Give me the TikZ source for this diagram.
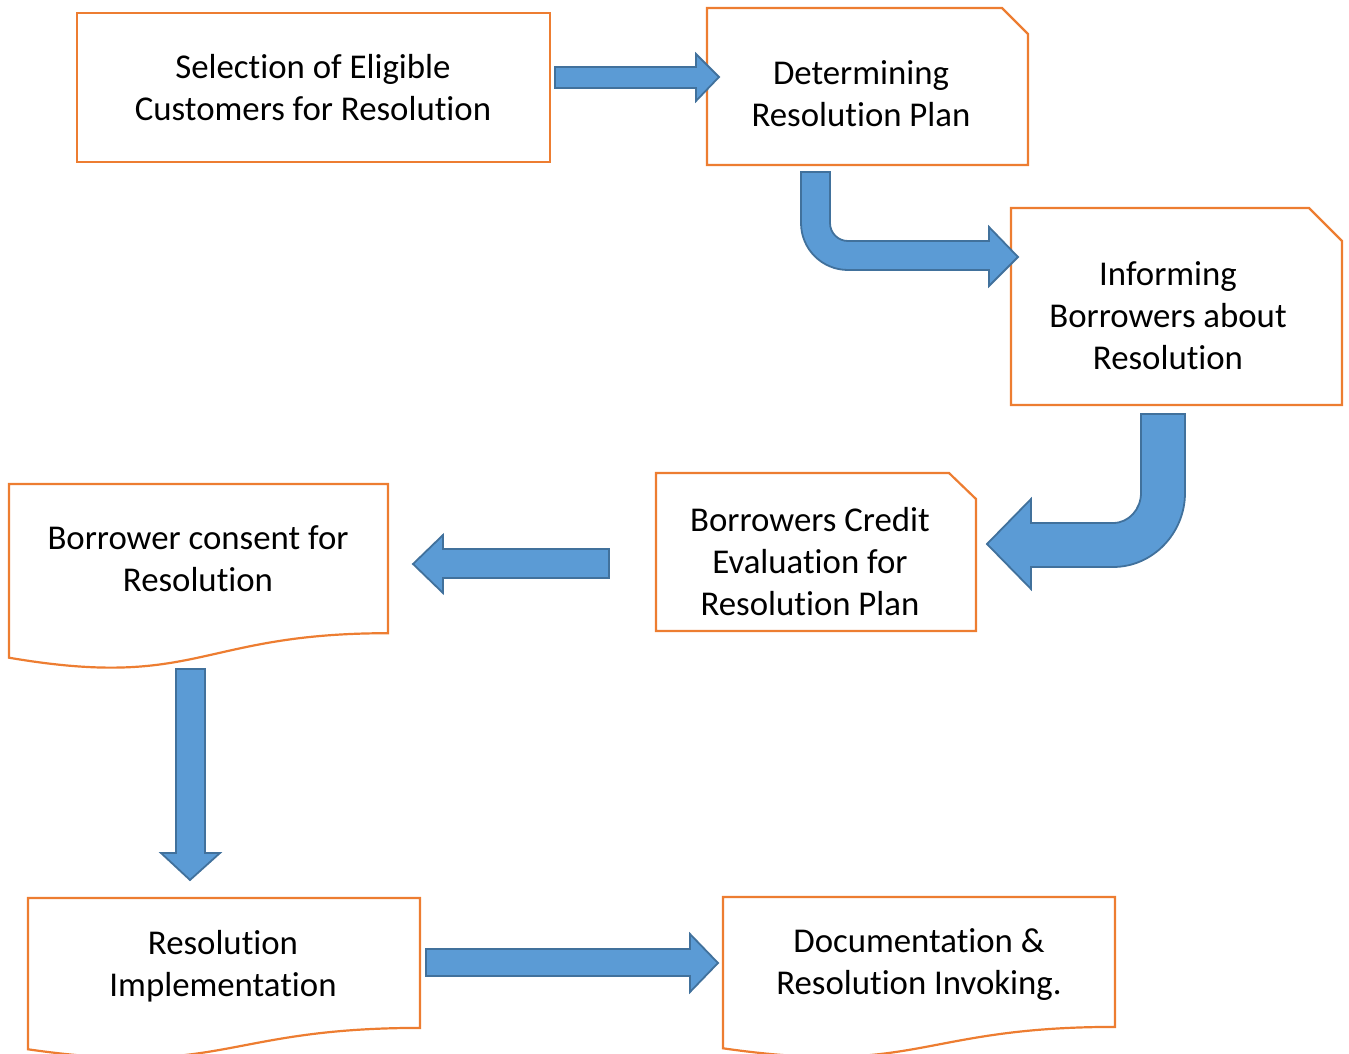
\documentclass[tikz,border=0pt]{standalone}
\usepackage{fontspec}
\setmainfont[Ligatures=NoCommon]{Carlito}
\definecolor{boxorange}{HTML}{ED7D31}
\definecolor{arrowfill}{HTML}{5B9BD5}
\definecolor{arrowline}{HTML}{41719C}
\begin{document}
\begin{tikzpicture}[x=1pt,y=-1pt,
  box/.style={draw=boxorange,line width=2.2pt,fill=white},
  blockarrow/.style={draw=arrowline,line width=1.8pt,fill=arrowfill,line join=miter},
  label/.style={align=center,font=\fontsize{34.8}{42}\selectfont,text=black,inner sep=0pt}]
\path[use as bounding box] (0,0) rectangle (1349,1054);

% Boxes
\draw[box] (77,13) rectangle (550,162);
\draw[box] (707,8) -- (1002,8) -- (1028,34) -- (1028,165) -- (707,165) -- cycle;
\draw[box] (1011,208) -- (1309,208) -- (1342,241) -- (1342,405) -- (1011,405) -- cycle;
\draw[box] (656,473) -- (949,473) -- (976,499) -- (976,631) -- (656,631) -- cycle;
\draw[box] (9,484) -- (388,484) -- (388,633.2) .. controls (198.5,633.2) and (198.5,690) .. (9,657.7) -- cycle;
\draw[box] (28,898) -- (420,898) -- (420,1027.9) .. controls (224,1027.9) and (224,1077.4) .. (28,1049.3) -- cycle;
\draw[box] (723,897) -- (1115,897) -- (1115,1026.9) .. controls (919,1026.9) and (919,1076.4) .. (723,1048.3) -- cycle;

% Texts
\node[label] (t1) at (313,88) {Selection of Eligible\\Customers for Resolution};
\node[label] (t2) at (861,94) {Determining\\Resolution Plan};
\node[label] (t3) at (1168,316) {Informing\\Borrowers about\\Resolution};
\node[label] (t4) at (810,562) {Borrowers Credit\\Evaluation for\\Resolution Plan};
\node[label] (t5) at (198,559) {Borrower consent for\\Resolution};
\node[label] (t6) at (223,966) {Resolution\\Implementation};
\node[label] (t7) at (919,965) {Documentation \&\\Resolution Invoking.};

% Block arrows
\draw[blockarrow] (555,67) -- (696,67) -- (696,54) -- (719,77) -- (696,101) -- (696,88) -- (555,88) -- cycle;
\draw[blockarrow] (801,172) -- (830,172) -- (830,223) .. controls (830,233) and (838,241) .. (848,241)
  -- (989,241) -- (989,227) -- (1018,257) -- (989,286) -- (989,270) -- (848,270)
  .. controls (822,270) and (801,249) .. (801,223) -- cycle;
\draw[blockarrow] (1141,414) -- (1185,414) -- (1185,493) .. controls (1185,533) and (1153,567) .. (1113,567)
  -- (1031,567) -- (1031,589) -- (987,544) -- (1031,499) -- (1031,523) -- (1113,523)
  .. controls (1129,523) and (1141,509) .. (1141,493) -- cycle;
\draw[blockarrow] (609,549) -- (443,549) -- (443,535) -- (413,564) -- (443,593) -- (443,578) -- (609,578) -- cycle;
\draw[blockarrow] (176,669) -- (205,669) -- (205,853) -- (220,853) -- (190,880) -- (161,853) -- (176,853) -- cycle;
\draw[blockarrow] (426,949) -- (690,949) -- (690,934) -- (718,963) -- (690,992) -- (690,976) -- (426,976) -- cycle;
\end{tikzpicture}
\end{document}
